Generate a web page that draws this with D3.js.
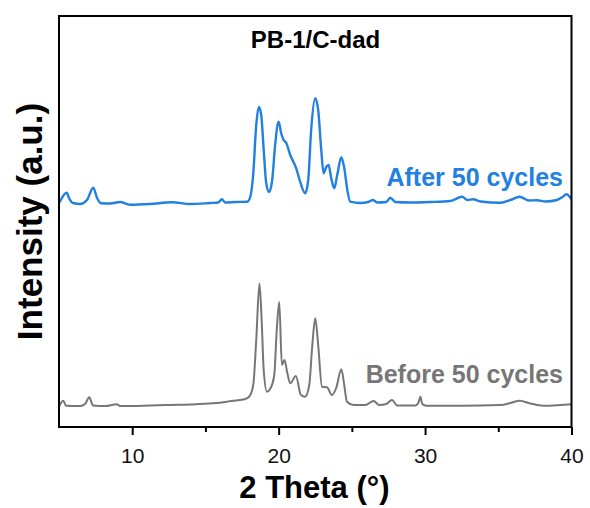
<!DOCTYPE html>
<html>
<head>
<meta charset="utf-8">
<script src="https://cdn.jsdelivr.net/npm/d3@7"></script>
<style>
html,body{margin:0;padding:0;background:#fff;}
svg{display:block;font-family:"Liberation Sans",Arial,sans-serif;}
</style>
</head>
<body>
<svg id="chart" width="590" height="508"></svg>
<script>
// 2-theta (deg) and intensity (a.u.)
const afterTheta = [5.0,5.53,5.68,5.96,6.44,6.91,7.34,7.6,7.87,8.49,9.17,9.85,11.22,12.72,13.95,15.32,15.87,16.12,16.35,17.03,17.85,18.06,18.26,18.47,18.65,18.81,18.98,19.15,19.35,19.56,19.76,20.0,20.17,20.34,20.52,20.79,21.2,21.47,21.81,22.02,22.22,22.5,22.7,22.91,23.07,23.25,23.41,23.59,23.8,24.0,24.28,24.48,24.69,24.89,25.57,26.12,26.44,26.74,27.35,27.62,27.97,28.99,30.36,31.73,32.53,32.89,33.28,33.78,35.15,35.83,36.46,37.06,37.65,38.22,39.02,39.38,39.65,40.0];
const afterI = [223.7,234.3,229,224,223,227,239.3,229,223.7,223.5,225,222.3,223,224.7,223,224,224.5,227.7,224.5,225,225.3,230,252,302,320,312,277,244,235,247,282,305.3,294,287,284,272,258.7,245.3,233.7,247,297,328.7,317,277,253.7,260,262,249,238.7,252,269.7,259,237,225.3,224,225,227,224.5,225,229.3,225,224.5,225,226,230.3,227,227.7,225.5,224.3,227,230.3,226.5,226.7,225.5,227,230,232.7,227.7];

const beforeTheta = [5.0,5.29,5.48,6.44,6.78,7.07,7.32,8.14,8.94,9.17,11.22,12.59,13.95,15.53,16.35,16.89,17.37,17.83,18.06,18.28,18.47,18.69,18.84,18.98,19.2,19.42,19.7,19.87,20.04,20.22,20.4,20.58,20.79,21.18,21.52,21.81,22.09,22.3,22.5,22.7,22.96,23.3,23.64,23.93,24.28,24.48,24.66,25.12,25.92,26.48,26.87,27.35,27.74,28.1,29.33,29.54,29.68,29.81,30.08,32.41,35.15,35.83,36.46,37.19,38.08,39.24,40.0];
const beforeI = [20.3,26.3,21.3,21,23,29.7,21.5,21,22.7,21,21.5,22,22.5,23.7,25,26.3,27,28.7,32,43.7,87,143.5,107,57,35.3,38,52,97,125,62,67,55,43.7,51,32,30.3,42,82,108.7,82,40.3,39.7,32,39,57.7,42,25.3,22,22,26,22,23,27,21.5,21.5,24,30.3,23,21.3,21.3,22,24,26.3,23.5,21.3,22,22.7];

const majorTicks = [10,20,30,40];
const minorTicks = [15,25,35];
const seriesLabels = ["After 50 cycles","Before 50 cycles"];
const titleText = "PB-1/C-dad";
const xTitle = "2 Theta (°)";
const yTitle = "Intensity (a.u.)";

const svg = d3.select("#chart");
const L = 59, R = 571.5, T = 16, B = 427;
const x = d3.scaleLinear().domain([5,40]).range([L,R]);
const y = d3.scaleLinear().domain([0,411]).range([B,T]);

const line = d3.line().x(d => x(d[0])).y(d => y(d[1])).curve(d3.curveMonotoneX);
const clip = svg.append("clipPath").attr("id","clip").append("rect")
  .attr("x",L).attr("y",T).attr("width",R-L).attr("height",B-T);

const g = svg.append("g").attr("clip-path","url(#clip)");
g.append("path").datum(d3.zip(beforeTheta,beforeI))
  .attr("d",line).attr("fill","none").attr("stroke","#767676").attr("stroke-width",2).attr("stroke-linejoin","round");
g.append("path").datum(d3.zip(afterTheta,afterI))
  .attr("d",line).attr("fill","none").attr("stroke","#2180e0").attr("stroke-width",2.4).attr("stroke-linejoin","round");

// axis ticks
const ax = svg.append("g").attr("transform",`translate(0,${B})`);
ax.call(d3.axisBottom(x).tickValues(majorTicks).tickSize(8).tickSizeOuter(0).tickFormat(d3.format("d")));
ax.select(".domain").remove();
ax.selectAll(".tick line").attr("stroke","#000").attr("stroke-width",2);
ax.selectAll(".tick text").attr("font-size",21).attr("font-family","Liberation Sans, Arial, sans-serif").attr("fill","#111").attr("dy",0).attr("y",36);
const axm = svg.append("g").attr("transform",`translate(0,${B})`);
axm.call(d3.axisBottom(x).tickValues(minorTicks).tickSize(5).tickFormat(""));
axm.select(".domain").remove();
axm.selectAll(".tick line").attr("stroke","#000").attr("stroke-width",2);

// frame
svg.append("rect").attr("x",L).attr("y",T).attr("width",R-L).attr("height",B-T)
  .attr("fill","none").attr("stroke","#000").attr("stroke-width",2);

// texts
svg.append("text").attr("x",315.5).attr("y",47.7).attr("text-anchor","middle")
  .attr("font-weight","bold").attr("font-size",24).attr("fill","#000").text(titleText);
svg.append("text").attr("x",563).attr("y",186).attr("text-anchor","end")
  .attr("font-weight","bold").attr("font-size",25).attr("fill","#2180e0").text(seriesLabels[0]);
svg.append("text").attr("x",563).attr("y",383.3).attr("text-anchor","end")
  .attr("font-weight","bold").attr("font-size",25).attr("fill","#767676").text(seriesLabels[1]);
svg.append("text").attr("x",314.4).attr("y",498).attr("text-anchor","middle")
  .attr("font-weight","bold").attr("font-size",31).attr("fill","#000").text(xTitle);
svg.append("text").attr("transform","translate(42,221.5) rotate(-90)").attr("text-anchor","middle")
  .attr("font-weight","bold").attr("font-size",35).attr("fill","#000").text(yTitle);
</script>
</body>
</html>
